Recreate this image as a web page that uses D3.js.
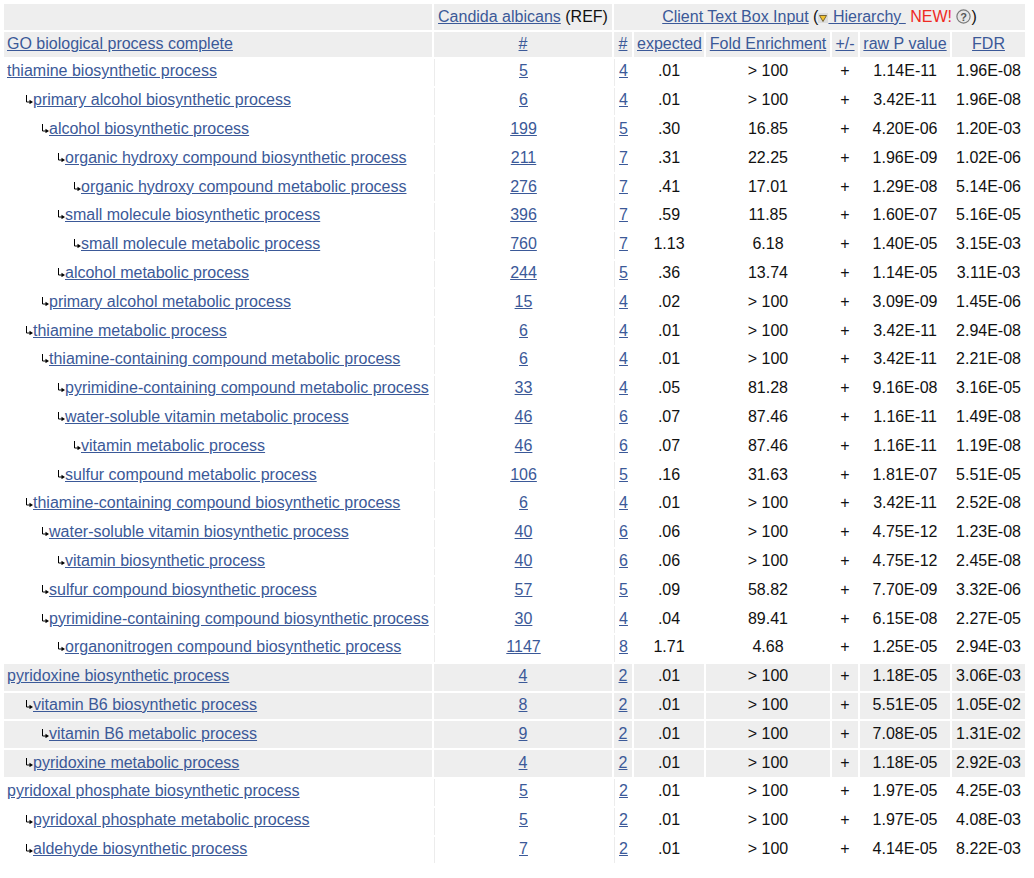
<!doctype html>
<html>
<head>
<meta charset="utf-8">
<title>GO biological process complete</title>
<style>
  body { margin: 0; background: #fff; color: #111; font: 16px Arial, "Liberation Sans", Helvetica, sans-serif; }
  table { margin: 2px; border-collapse: separate; border-spacing: 2px; table-layout: fixed; width: 1025px; }
  td { padding: 0 3px; height: 26.8px; white-space: nowrap; vertical-align: middle; text-align: center; }
  td.name { text-align: left; }
  tr.head td { background: #eee; height: 25.5px; }
  tr.shade td { background: #eee; }
  tr.plain td.line { border-left: 1px solid #ececec; }
  tr.row td { height: 24.8px; padding-bottom: 2px; }
  a { color: #3b5998; text-decoration: underline; }
  .new { color: #ee2a24; }
  svg.arrow { vertical-align: 1px; }
  svg.tri { vertical-align: -1px; }
  svg.help { vertical-align: -2px; }
</style>
<script src="https://d3js.org/d3.v7.min.js"></script>
</head>
<body>
<script>
   // rows of the GO table, top to bottom
   var TERMS = [
      "thiamine biosynthetic process",
      "primary alcohol biosynthetic process",
      "alcohol biosynthetic process",
      "organic hydroxy compound biosynthetic process",
      "organic hydroxy compound metabolic process",
      "small molecule biosynthetic process",
      "small molecule metabolic process",
      "alcohol metabolic process",
      "primary alcohol metabolic process",
      "thiamine metabolic process",
      "thiamine-containing compound metabolic process",
      "pyrimidine-containing compound metabolic process",
      "water-soluble vitamin metabolic process",
      "vitamin metabolic process",
      "sulfur compound metabolic process",
      "thiamine-containing compound biosynthetic process",
      "water-soluble vitamin biosynthetic process",
      "vitamin biosynthetic process",
      "sulfur compound biosynthetic process",
      "pyrimidine-containing compound biosynthetic process",
      "organonitrogen compound biosynthetic process",
      "pyridoxine biosynthetic process",
      "vitamin B6 biosynthetic process",
      "vitamin B6 metabolic process",
      "pyridoxine metabolic process",
      "pyridoxal phosphate biosynthetic process",
      "pyridoxal phosphate metabolic process",
      "aldehyde biosynthetic process"
   ];
   var LEVELS = [0,1,2,3,4,3,4,3,2,1,2,3,3,4,3,1,2,3,2,2,3, 0,1,2,1, 0,1,1];
   var GROUPS = [0,0,0,0,0,0,0,0,0,0,0,0,0,0,0,0,0,0,0,0,0, 1,1,1,1, 2,2,2];
   var REF_COUNT = [5,6,199,211,276,396,760,244,15,6,6,33,46,46,106,6,40,40,57,30,1147,4,8,9,4,5,5,7];
   var CLIENT_COUNT = [4,4,5,7,7,7,7,5,4,4,4,4,6,6,5,4,6,6,5,4,8,2,2,2,2,2,2,2];
   var EXPECTED = [".01",".01",".30",".31",".41",".59","1.13",".36",".02",".01",".01",".05",".07",".07",
                   ".16",".01",".06",".06",".09",".04","1.71",".01",".01",".01",".01",".01",".01",".01"];
   var FOLD = ["> 100","> 100","16.85","22.25","17.01","11.85","6.18","13.74","> 100","> 100","> 100",
               "81.28","87.46","87.46","31.63","> 100","> 100","> 100","58.82","89.41","4.68",
               "> 100","> 100","> 100","> 100","> 100","> 100","> 100"];
   var SIGN = ["+","+","+","+","+","+","+","+","+","+","+","+","+","+","+","+","+","+","+","+","+","+","+","+","+","+","+","+"];
   var RAW_P = ["1.14E-11","3.42E-11","4.20E-06","1.96E-09","1.29E-08","1.60E-07","1.40E-05","1.14E-05",
                "3.09E-09","3.42E-11","3.42E-11","9.16E-08","1.16E-11","1.16E-11","1.81E-07","3.42E-11",
                "4.75E-12","4.75E-12","7.70E-09","6.15E-08","1.25E-05","1.18E-05","5.51E-05","7.08E-05",
                "1.18E-05","1.97E-05","1.97E-05","4.14E-05"];
   var FDR = ["1.96E-08","1.96E-08","1.20E-03","1.02E-06","5.14E-06","5.16E-05","3.15E-03","3.11E-03",
              "1.45E-06","2.94E-08","2.21E-08","3.16E-05","1.49E-08","1.19E-08","5.51E-05","2.52E-08",
              "1.23E-08","2.45E-08","3.32E-06","2.27E-05","2.94E-03","3.06E-03","1.05E-02","1.31E-02",
              "2.92E-03","4.25E-03","4.08E-03","8.22E-03"];

   var COLUMN_LABELS = ["GO biological process complete","#","#","expected","Fold Enrichment","+/-","raw P value","FDR"];
   var COLUMN_WIDTHS = [428,178,18,70,124,26,90,73];

   var rows = TERMS.map(function(t, i) {
      return { term: t, level: LEVELS[i], group: GROUPS[i], ref: REF_COUNT[i], n: CLIENT_COUNT[i],
               expected: EXPECTED[i], fold: FOLD[i], sign: SIGN[i], p: RAW_P[i], fdr: FDR[i] };
   });

   var table = d3.select("body").append("table");

   table.append("colgroup").selectAll("col")
      .data(COLUMN_WIDTHS)
      .enter()
         .append("col")
            .style("width", function(d) { return d + "px"; });

   // first header row
   var h1 = table.append("tr").attr("class", "head");
   h1.append("td");
   var refCell = h1.append("td");
   refCell.append("a").attr("href", "#").text("Candida albicans");
   refCell.append("span").text(" (REF)");

   var clientCell = h1.append("td").attr("colspan", 6);
   clientCell.append("a").attr("href", "#").text("Client Text Box Input");
   clientCell.append("span").text(" (");
   var hier = clientCell.append("a").attr("href", "#");
   var tri = hier.append("svg").attr("class", "tri").attr("width", 10).attr("height", 10);
   tri.append("rect").attr("width", 10).attr("height", 10).attr("fill", "#dcdcdc");
   tri.append("path").attr("d", "M1.5,2.5 L8.5,2.5 L5,8.5 Z")
      .attr("fill", "#f2c230").attr("stroke", "#5a4a20").attr("stroke-width", 0.8);
   hier.append("span").text("\u00a0Hierarchy\u00a0");
   clientCell.append("span").attr("class", "new").text(" NEW!");
   clientCell.append("span").text(" ");
   var help = clientCell.append("svg").attr("class", "help").attr("width", 15).attr("height", 15);
   help.append("circle").attr("cx", 7.5).attr("cy", 7.5).attr("r", 6.6)
      .attr("fill", "#e6e6e6").attr("stroke", "#7a7a7a").attr("stroke-width", 1.2);
   help.append("text").attr("x", 7.5).attr("y", 11.5).attr("text-anchor", "middle")
      .attr("font-size", 11).attr("font-weight", "bold").attr("fill", "#555").text("?");
   clientCell.append("span").text(")");

   // second header row
   table.append("tr").attr("class", "head")
      .selectAll("td")
      .data(COLUMN_LABELS)
      .enter()
         .append("td")
            .attr("class", function(d, i) { return i == 0 ? "name" : null; })
            .append("a").attr("href", "#").text(function(d) { return d; });

   // body rows
   var tr = table.selectAll("tr.row")
      .data(rows)
      .enter()
         .append("tr")
            .attr("class", function(d) { return "row " + (d.group % 2 == 1 ? "shade" : "plain"); });

   var nameCell = tr.append("td").attr("class", "name");
   nameCell.filter(function(d) { return d.level > 0; })
      .append("svg")
         .attr("class", "arrow")
         .attr("width", 8).attr("height", 9)
         .style("margin-left", function(d) { return (18 + 16 * (d.level - 1)) + "px"; })
         .each(function() {
            var s = d3.select(this);
            s.append("path").attr("d", "M1.5,0 V7 H5").attr("fill", "none").attr("stroke", "#000").attr("stroke-width", 1);
            s.append("path").attr("d", "M4.5,4.8 L8,7 L4.5,9.2 Z").attr("fill", "#000");
         });
   nameCell.append("a").attr("href", "#").text(function(d) { return d.term; });

   tr.append("td").attr("class", "line").append("a").attr("href", "#").text(function(d) { return d.ref; });
   tr.append("td").attr("class", "line").append("a").attr("href", "#").text(function(d) { return d.n; });
   tr.append("td").text(function(d) { return d.expected; });
   tr.append("td").text(function(d) { return d.fold; });
   tr.append("td").text(function(d) { return d.sign; });
   tr.append("td").text(function(d) { return d.p; });
   tr.append("td").text(function(d) { return d.fdr; });
</script>
</body>
</html>
